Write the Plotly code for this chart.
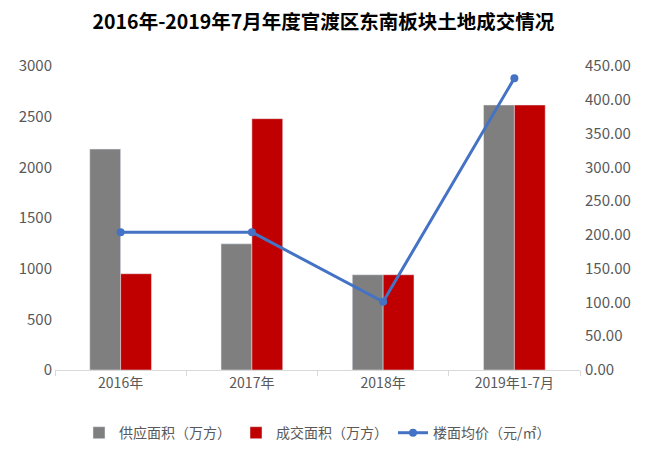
import plotly.graph_objects as go

categories = ["2016年", "2017年", "2018年", "2019年1-7月"]
supply = [2180, 1245, 940, 2615]
deal = [950, 2480, 940, 2615]
price = [204.0, 204.0, 101.0, 432.0]

font_family = "Noto Sans CJK SC, Microsoft YaHei, sans-serif"

fig = go.Figure()
fig.add_trace(go.Bar(x=categories, y=supply, name="供应面积（万方）", marker_color="#7F7F7F", yaxis="y"))
fig.add_trace(go.Bar(x=categories, y=deal, name="成交面积（万方）", marker_color="#C00000", yaxis="y"))
fig.add_trace(go.Scatter(x=categories, y=price, name="楼面均价（元/㎡）", mode="lines+markers",
                         line=dict(color="#4472C4", width=3), marker=dict(size=8, color="#4472C4"),
                         yaxis="y2"))

fig.update_layout(
    width=647, height=462,
    margin=dict(l=55, r=67, t=66, b=92),
    paper_bgcolor="white", plot_bgcolor="white",
    font=dict(family=font_family, size=14, color="#595959"),
    title=dict(text="<b>2016年-2019年7月年度官渡区东南板块土地成交情况</b>", x=0.5, xanchor="center",
               y=0.952, yanchor="middle", font=dict(size=19.5, color="#000000", family=font_family)),
    barmode="group", bargap=0.53, bargroupgap=0,
    xaxis=dict(showline=True, linecolor="#D9D9D9", linewidth=1, ticks="outside", tickson="boundaries",
               ticklen=5, tickcolor="#D9D9D9", showgrid=False, tickfont=dict(size=14, color="#595959")),
    yaxis=dict(range=[0, 3000], dtick=500, showgrid=False, zeroline=False, showline=False,
               tickfont=dict(size=15, color="#595959"), ticks="", ticklabelstandoff=2),
    yaxis2=dict(range=[0, 450], dtick=50, overlaying="y", side="right", showgrid=False, zeroline=False,
                tickformat=".2f", tickfont=dict(size=15, color="#595959"), ticks="", ticklabelstandoff=4),
    legend=dict(orientation="h", x=0.5, xanchor="center", y=-0.155, yanchor="top",
                font=dict(size=14, color="#595959"), traceorder="normal"),
)

fig.write_html("out.html")
